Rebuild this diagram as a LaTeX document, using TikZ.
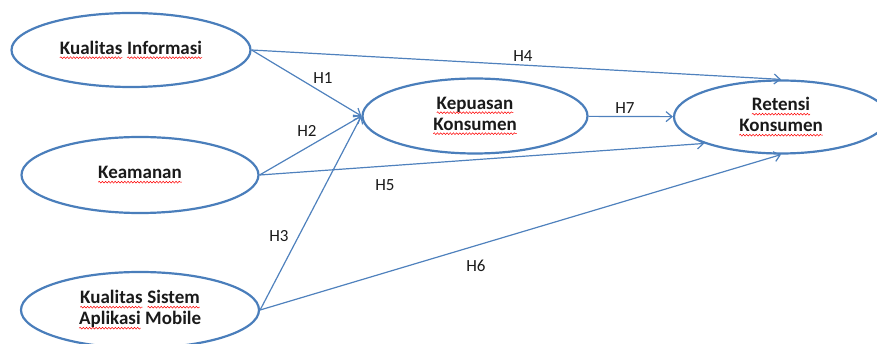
\documentclass[tikz,border=0pt]{standalone}
\usepackage{fontspec}
\setmainfont{Carlito}
\usetikzlibrary{shapes.geometric,arrows.meta,decorations.pathmorphing}
\definecolor{ovalblue}{HTML}{4A7EBB}
\definecolor{lineblue}{HTML}{4F81BD}
\definecolor{txt}{HTML}{1A1A1A}
\newcommand\spellwave[1]{\tikz[baseline=(w.base)]{\node[shape=rectangle,draw=none,fill=none,inner sep=0pt,outer sep=0pt,minimum width=0pt,minimum height=0pt,text=txt] (w) {#1};
  \draw[red, line width=0.5pt, decorate, decoration={snake, amplitude=0.9pt, segment length=3.2pt}] ([yshift=-3.2pt]w.base west) -- ([yshift=-3.2pt]w.base east);}}
\begin{document}
\begin{tikzpicture}[x=1pt,y=-1pt,
  oval/.style={ellipse, draw=ovalblue, line width=2.2pt, inner sep=0pt, align=center,
    font=\fontsize{19}{21}\selectfont\bfseries, text=txt},
  link/.style={draw=lineblue, line width=1.2pt, -{Straight Barb[length=6pt,width=10pt]}},
  hlab/.style={font=\fontsize{17}{20}\selectfont, text=txt, inner sep=0pt}]
\useasboundingbox (0,0) rectangle (877,344);
\clip (0,0) rectangle (877,344);
\node[oval, minimum width=239pt, minimum height=74pt] (ki) at (131,50)
  {\spellwave{Kualitas} \spellwave{Informasi}};
\node[oval, minimum width=237pt, minimum height=76pt] (ke) at (140,175)
  {\spellwave{Keamanan}};
\node[oval, minimum width=238pt, minimum height=76pt] (ks) at (140,310)
  {\spellwave{Kualitas} \spellwave{Sistem}\\ \spellwave{Aplikasi} Mobile};
\node[oval, minimum width=225pt, minimum height=75pt] (kp) at (475,116)
  {\spellwave{Kepuasan}\\ \spellwave{Konsumen}};
\node[oval, minimum width=214pt, minimum height=73pt] (rt) at (781,117)
  {\spellwave{Retensi}\\ \spellwave{Konsumen}};
\draw[link] (ki.east) -- (rt.north);
\draw[link] (ki.east) -- (kp.west);
\draw[link] (ke.east) -- (kp.west);
\draw[link] (ke.east) -- (rt.199);
\draw[link] (ks.east) -- (kp.west);
\draw[link] (ks.east) -- (rt.south);
\draw[link] (kp) -- (rt);
\node[hlab] (h4) at (523,56) {H4};
\node[hlab] (h1) at (323,78) {H1};
\node[hlab] (h2) at (307,131) {H2};
\node[hlab] (h7) at (625,108) {H7};
\node[hlab] (h5) at (385,185) {H5};
\node[hlab] (h3) at (279,236) {H3};
\node[hlab] (h6) at (476,266) {H6};
\end{tikzpicture}
\end{document}
